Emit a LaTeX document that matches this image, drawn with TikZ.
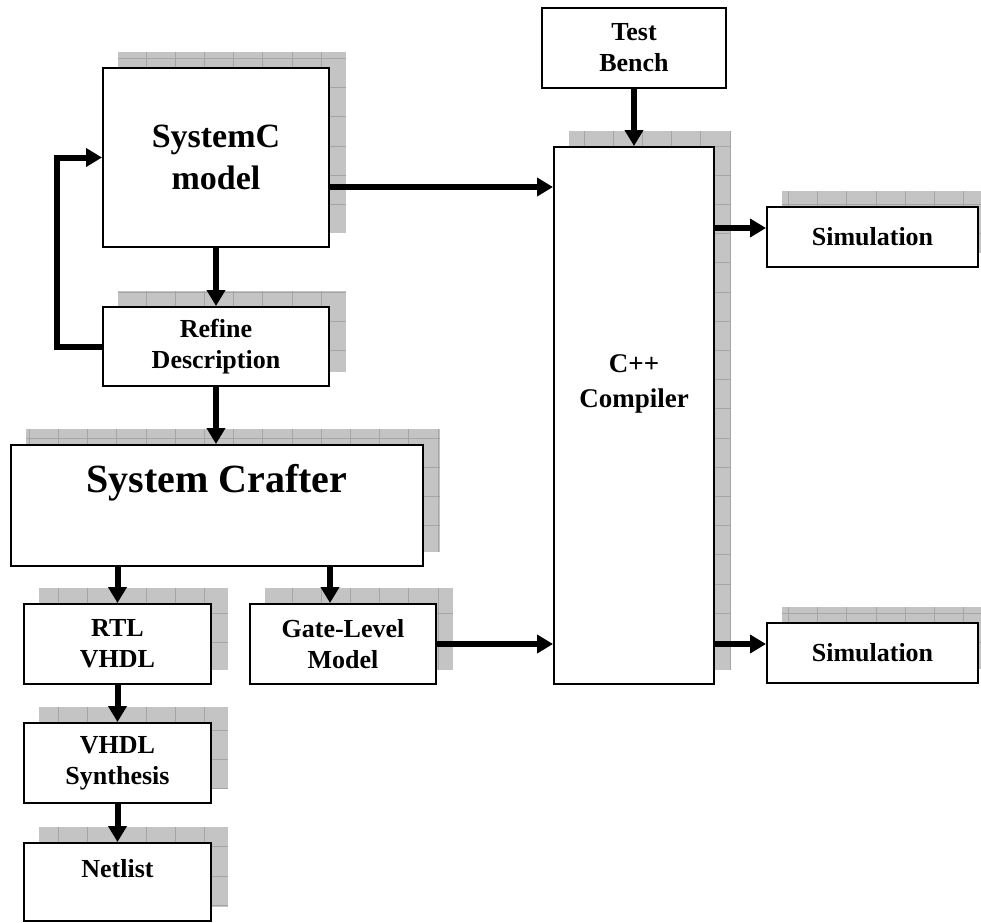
\documentclass[tikz,border=0pt]{standalone}
\usepackage{fontspec}
\setmainfont{Liberation Serif}
\usepackage{tikz}
\usetikzlibrary{arrows.meta,positioning,calc,backgrounds}
\definecolor{shadowgray}{RGB}{196,196,196}
\definecolor{gridgray}{RGB}{165,165,165}

\begin{document}
\begin{tikzpicture}[
  x=1pt,y=-1pt,
  every node/.style={align=center},
  block/.style={draw=black,line width=2pt,fill=white,inner sep=2pt},
  lbl/.style={font=\fontsize{26}{31}\selectfont\bfseries},
  lblcpp/.style={font=\fontsize{27}{35}\selectfont\bfseries},
  lblmodel/.style={font=\fontsize{34}{42}\selectfont\bfseries},
  lblcrafter/.style={font=\fontsize{40}{48}\selectfont\bfseries},
  shadowbox/.style={fill=shadowgray,
    path picture={\draw[gridgray,line width=0.8pt]
      (path picture bounding box.south west) grid[step=29.2pt]
      (path picture bounding box.north east);}},
  arr/.style={-{Triangle[length=16pt,width=18pt]},line width=6pt}
]
\useasboundingbox (0,0) rectangle (981,922);

\node[block,minimum width=226pt,minimum height=179pt,lblmodel] (model) at (216,157.5) {SystemC\\model};
\node[block,minimum width=226pt,minimum height=79pt,lbl] (refine) at (216,346.5) {Refine\\Description};
\node[block,minimum width=412pt,minimum height=121pt] (crafter) at (217,505.5) {};
\node[lblcrafter] (craftertext) at (217,483) {System Crafter};

\node[block,minimum width=187pt,minimum height=80pt,lbl] (rtl) at (117.5,644) {RTL\\VHDL};
\node[block,minimum width=186pt,minimum height=80pt,lbl] (gate) at (343,644) {Gate-Level\\Model};
\node[block,minimum width=187pt,minimum height=80pt,lbl] (synth) at (117.5,763) {VHDL\\Synthesis};
\node[block,minimum width=187pt,minimum height=78pt] (netlist) at (117.5,882) {};
\node[lbl] (netlisttext) at (117.5,869) {Netlist};

\node[block,minimum width=184pt,minimum height=80pt,lbl] (bench) at (634,48) {Test\\Bench};
\node[block,minimum width=160pt,minimum height=537pt] (cpp) at (634,415.5) {};
\node[lblcpp] (cpptext) at (634,384) {C++\\Compiler};
\node[block,minimum width=211pt,minimum height=60pt,lbl] (sim1) at (872.5,237) {Simulation};
\node[block,minimum width=211pt,minimum height=60pt,lbl] (sim2) at (872.5,653) {Simulation};

% grey raster shadows behind the blocks
\begin{scope}[on background layer]
  \clip (0,0) rectangle (981,922);
  \foreach \n in {model,refine,crafter,rtl,gate,synth,netlist,cpp,sim1,sim2}
    \fill[shadowbox] ($(\n.south west)+(16,-15)$) rectangle ($(\n.north east)+(16,-15)$);
\end{scope}

\draw[arr] (model.south)--(refine.north);
\draw[arr] (refine.west)--++(-45,0)|-(model.west);
\draw[arr] (refine.south)--(refine.south |- crafter.north);
\draw[arr] (rtl.north |- crafter.south)--(rtl.north);
\draw[arr] ([xshift=-13pt]gate.north |- crafter.south)--([xshift=-13pt]gate.north);
\draw[arr] (rtl.south)--(synth.north);
\draw[arr] (synth.south)--(netlist.north);

\draw[arr] (model.east |- 0,187)--(cpp.west |- 0,187);
\draw[arr] (gate.east)--(cpp.west |- gate.east);
\draw[arr] (bench.south)--(cpp.north);
\draw[arr] (cpp.east |- 0,228)--(sim1.west |- 0,228);
\draw[arr] (cpp.east |- 0,644)--(sim2.west |- 0,644);
\end{tikzpicture}
\end{document}
